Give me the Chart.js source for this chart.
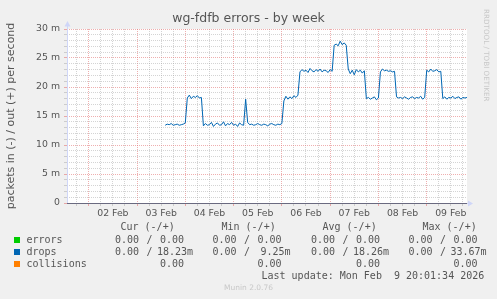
<!DOCTYPE html>
<html><head><meta charset="utf-8">
<script src="https://cdn.jsdelivr.net/npm/chart.js@4.4.1/dist/chart.umd.min.js"></script>
<style>
html,body{margin:0;padding:0;background:#F0F0F0;width:497px;height:299px;overflow:hidden;}
#wrap{position:relative;width:497px;height:299px;}
#c{position:absolute;left:0;top:0;}
.t{position:absolute;white-space:pre;font-family:"DejaVu Sans Mono",monospace;font-size:10px;line-height:12px;color:#555;}
.sq{position:absolute;width:6px;height:6px;}
#wm{position:absolute;left:482px;top:9px;writing-mode:vertical-rl;font-family:"DejaVu Sans",sans-serif;font-size:7.2px;color:#C8C8C8;white-space:pre;line-height:9px;}
#ver{position:absolute;left:0;width:497px;top:283px;text-align:center;font-family:"DejaVu Sans",sans-serif;font-size:7.5px;color:#C8C8C8;line-height:10px;}
</style></head>
<body><div id="wrap">
<canvas id="c" width="497" height="299"></canvas>
<div id="wm">RRDTOOL / TOBI OETIKER</div>
<div id="legend"></div>
<div id="ver">Munin 2.0.76</div>
</div>
<script>
// ---- data (hours since 01 Feb 00:00; values in milli packets/s) ----
const START_HOUR = 62;          // first sample: 03 Feb 14:00
const STEP_HOURS = 1;
const dropsOut = [
  13.4,13.6,13.5,13.7,13.4,13.5,13.6,13.4,13.5,13.6,13.8,
  18.1,18.6,18.0,18.4,18.2,18.5,18.1,18.2,
  13.3,13.7,13.4,13.5,13.9,13.2,13.6,13.8,13.4,13.5,14.0,13.3,13.7,13.5,13.9,13.4,13.6,13.2,13.8,13.5,13.4,
  17.9,
  13.9,13.5,13.6,13.4,13.5,13.7,13.5,13.4,13.6,13.5,13.3,13.6,13.7,13.5,13.4,13.6,13.5,13.7,
  17.6,18.4,17.9,18.3,18.0,18.5,18.2,18.6,
  22.6,23.0,22.7,22.9,22.5,23.2,22.8,22.6,23.0,22.7,23.1,22.6,22.9,22.8,22.5,23.0,22.7,
  27.2,27.4,27.1,27.9,27.3,27.6,27.2,
  23.1,22.3,22.9,22.1,23.0,22.6,22.9,22.4,22.8,
  18.0,18.2,17.9,18.1,18.3,17.8,18.1,
  22.6,23.1,22.8,22.9,22.7,22.8,22.6,22.7,
  18.3,18.1,18.2,18.0,18.3,18.1,17.9,18.2,18.3,18.0,18.2,18.1,18.4,17.9,18.2,
  22.9,22.6,23.1,22.7,22.8,23.0,22.6,22.7,
  18.0,18.3,17.9,18.2,18.1,18.4,18.0,18.2,18.3,17.9,18.2,18.1,18.2
];
const X_MIN = 13.2;             // left edge of the graph window
const X_MAX = 212.03;           // last update 09 Feb 20:01:34
const xGridHours = [18,24,30,36,42,48,54,60,66,72,78,84,90,96,102,108,114,120,126,132,138,144,150,156,162,168,174,180,186,192,198,204,210];
const xLabelHours = [36,60,84,108,132,156,180,204];
const xLabelTexts = ['02 Feb','03 Feb','04 Feb','05 Feb','06 Feb','07 Feb','08 Feb','09 Feb'];
const yTickValues = [0,1,2,3,4,5,6,7,8,9,10,11,12,13,14,15,16,17,18,19,20,21,22,23,24,25,26,27,28,29,30];
const yLabelValues = [0,5,10,15,20,25,30];
const yLabelTexts = ['0','5 m','10 m','15 m','20 m','25 m','30 m'];

const legendNames = ['errors','drops','collisions'];
const legendColors = ['#00CC00','#0066B3','#FF8000'];
const legendHeaders = ['Cur (-/+)','Min (-/+)','Avg (-/+)','Max (-/+)'];
const statsIn  = [['0.00','0.00','0.00','0.00'],['0.00','0.00','0.00','0.00'],[null,null,null,null]];
const statsOut = [['0.00','0.00','0.00','0.00'],['18.23m','9.25m','18.26m','33.67m'],['0.00','0.00','0.00','0.00']];
const lastUpdate = 'Last update: Mon Feb  9 20:01:34 2026';

// ---- legend (HTML text) ----
const lg = document.getElementById('legend');
function addText(txt, x, y){ const d=document.createElement('div'); d.className='t'; d.textContent=txt; d.style.left=x+'px'; d.style.top=y+'px'; lg.appendChild(d); return d; }
const colX = [115, 212.5, 311, 408.5];
const headX = [120.5, 221.5, 322.5, 422.5];
const rowTop = [233.5, 245.5, 257.5];
legendHeaders.forEach((h,i)=>addText(h, headX[i], 220.5));
legendNames.forEach((n,r)=>{
  const sq=document.createElement('div'); sq.className='sq'; sq.style.background=legendColors[r];
  sq.style.left='14px'; sq.style.top=(rowTop[r]+3.5)+'px'; lg.appendChild(sq);
  addText(n, 26.5, rowTop[r]);
  for(let c=0;c<4;c++){
    const x0 = colX[c];
    if(statsIn[r][c]!==null){ addText(statsIn[r][c], x0, rowTop[r]); addText('/', x0+31.5, rowTop[r]); }
    const o = statsOut[r][c];
    addText(o, o.length>4 ? x0+78-o.length*6.02 : x0+45, rowTop[r]);
  }
});
addText(lastUpdate, 261.5, 269.5);

// ---- chart ----
const points = dropsOut.map((v,i)=>({x: START_HOUR + i*STEP_HOURS, y: v}));
const MAJOR = 'rgba(225,110,110,0.55)';
const MINOR = 'rgba(160,160,160,0.45)';
const AXIS_BLUE = '#CFD6F8';
const tickFont = {family:'DejaVu Sans', size:9.33};

const deco = {
  id:'deco',
  beforeDraw(chart){
    const {ctx, chartArea:a} = chart;
    ctx.save(); ctx.fillStyle='#FFFFFF'; ctx.fillRect(a.left, a.top, a.right-a.left, a.bottom-a.top); ctx.restore();
  },
  beforeDatasetsDraw(chart){
    const {ctx, chartArea:a} = chart;
    ctx.save();
    ctx.lineWidth=1;
    ctx.strokeStyle=AXIS_BLUE;
    ctx.beginPath(); ctx.moveTo(a.left+0.5, a.bottom); ctx.lineTo(a.left+0.5, a.top-5); ctx.stroke();
    ctx.fillStyle=AXIS_BLUE;
    ctx.beginPath(); ctx.moveTo(a.left-2.5, a.top-2.5); ctx.lineTo(a.left+3.5, a.top-2.5); ctx.lineTo(a.left+0.5, a.top-8); ctx.closePath(); ctx.fill();
    ctx.beginPath(); ctx.moveTo(a.right+1, a.bottom-2.5); ctx.lineTo(a.right+1, a.bottom+3.5); ctx.lineTo(a.right+6, a.bottom+0.5); ctx.closePath(); ctx.fill();
    ctx.strokeStyle=AXIS_BLUE;
    ctx.beginPath(); ctx.moveTo(a.right, a.bottom+0.5); ctx.lineTo(a.right+2, a.bottom+0.5); ctx.stroke();
    ctx.strokeStyle='#6A6A80';
    ctx.beginPath(); ctx.moveTo(a.left, a.bottom+0.5); ctx.lineTo(a.right, a.bottom+0.5); ctx.stroke();
    ctx.restore();
  }
};

new Chart(document.getElementById('c'), {
  type:'line',
  data:{ datasets:[{ label:'drops', data:points, borderColor:'#0066B3', borderWidth:1, pointRadius:0, fill:false, tension:0 }] },
  options:{
    responsive:false, animation:false, devicePixelRatio:1,
    layout:{padding:{left:0,right:0,top:0,bottom:0}},
    plugins:{
      legend:{display:false}, tooltip:{enabled:false},
      title:{display:true, text:'wg-fdfb errors - by week', color:'#555',
        font:{family:'DejaVu Sans', size:12.5, weight:'normal', lineHeight:1.2}, padding:{top:11,bottom:3}}
    },
    scales:{
      x:{ type:'linear', min:X_MIN, max:X_MAX,
        afterBuildTicks:s=>{ s.ticks = xGridHours.map(v=>({value:v})); },
        afterFit:s=>{ s.height = 96; },
        ticks:{ autoSkip:false, maxRotation:0, minRotation:0, padding:2, color:'#555', font:tickFont,
          callback:v=>{ const i=xLabelHours.indexOf(v); return i>=0 ? xLabelTexts[i] : ''; } },
        grid:{ color:c=> (c.tick && c.tick.value%24===0) ? MAJOR : MINOR, lineWidth:1, tickLength:3 },
        border:{ display:false, dash:[1,1] }
      },
      y:{ min:0, max:30,
        afterBuildTicks:s=>{ s.ticks = yTickValues.map(v=>({value:v})); },
        afterFit:s=>{ s.width = 67; },
        ticks:{ autoSkip:false, padding:4, color:'#555', font:tickFont,
          callback:v=>{ const i=yLabelValues.indexOf(v); return i>=0 ? yLabelTexts[i] : ''; } },
        grid:{ color:c=> (c.tick && c.tick.value%5===0) ? MAJOR : MINOR, lineWidth:1, tickLength:3 },
        border:{ display:false, dash:[1,1] },
        title:{ display:true, text:'packets in (-) / out (+) per second', color:'#555',
          font:{family:'DejaVu Sans', size:11, lineHeight:1.2}, padding:{top:5,bottom:0} }
      },
      yRightMargin:{ position:'right', min:0, max:30, display:true,
        afterFit:s=>{ s.width = 30; },
        ticks:{ display:false }, grid:{ display:false, drawTicks:false }, border:{ display:false } }
    }
  },
  plugins:[deco]
});
</script>
</body></html>
